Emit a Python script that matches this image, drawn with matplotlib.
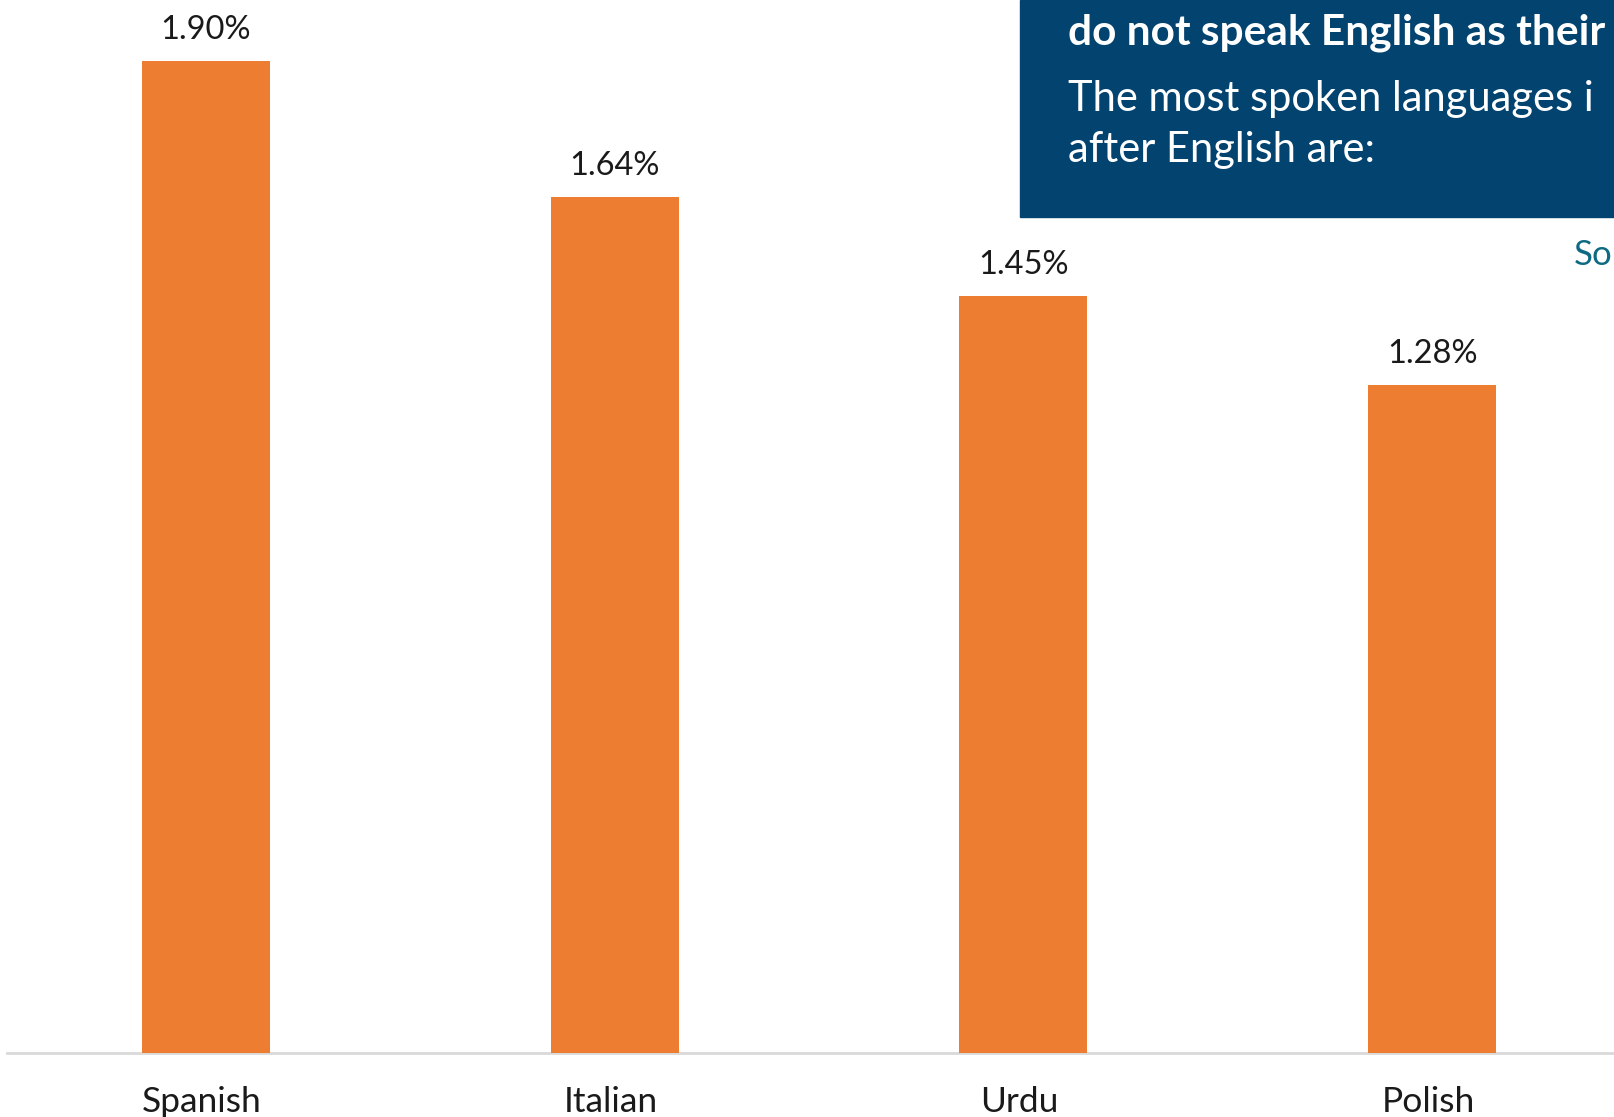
import matplotlib.pyplot as plt
from matplotlib.patches import Rectangle
from matplotlib.transforms import blended_transform_factory

# data
languages = ["Spanish", "Italian", "Urdu", "Polish"]
shares = [1.90, 1.64, 1.45, 1.28]
labels = ["1.90%", "1.64%", "1.45%", "1.28%"]

W, H = 1615, 1117
fig = plt.figure(figsize=(W / 100, H / 100), dpi=100)
ax = fig.add_axes([0, 0, 1, 1])

# pixel geometry of the original slide
px_per_cat = 408.7
px_per_pct = 522.0
x0_px = 206.0      # centre of first category
base_px = 64.0     # baseline height from the bottom

ax.set_xlim(-x0_px / px_per_cat, (W - x0_px) / px_per_cat)
ax.set_ylim(-base_px / px_per_pct, (H - base_px) / px_per_pct)
ax.axis("off")

x = range(len(languages))
ax.bar(x, shares, width=0.313, color="#ED7D31", zorder=2)

# baseline axis
ax.axhline(0, xmin=7 / W, xmax=1, color="#D9D9D9", lw=2, zorder=1)

font = "Lato"
for i, (v, lab) in enumerate(zip(shares, labels)):
    ax.annotate(lab, (i, v), xytext=(0, 16), textcoords="offset points",
                ha="center", va="baseline", fontsize=23.5, family=font,
                color="#1a1a1a")

tr = blended_transform_factory(ax.transData, ax.transAxes)
for i, name in enumerate(languages):
    ax.text(i - 0.01, 5 / H, name, transform=tr, ha="center", va="baseline",
            fontsize=25.5, family=font, color="#1a1a1a")

# callout box at top right
box = Rectangle((1020 / W, 1 - 217 / H), 1 - 1020 / W, 217 / H,
                transform=fig.transFigure, color="#03436F", zorder=5)
fig.patches.append(box)

tx = 1068 / W
fig.text(tx, 1 - 45 / H, "do not speak English as their", color="white",
         fontsize=30.5, fontweight="bold", family=font, va="baseline", zorder=6)
fig.text(tx, 1 - 111 / H, "The most spoken languages i", color="white",
         fontsize=30, family=font, va="baseline", zorder=6)
fig.text(tx, 1 - 162 / H, "after English are:", color="white",
         fontsize=30, family=font, va="baseline", zorder=6)

fig.text(1574 / W, 1 - 265 / H, "So", color="#0E6A82", fontsize=25,
         family=font, va="baseline")

fig.savefig("out.png", dpi=100)
